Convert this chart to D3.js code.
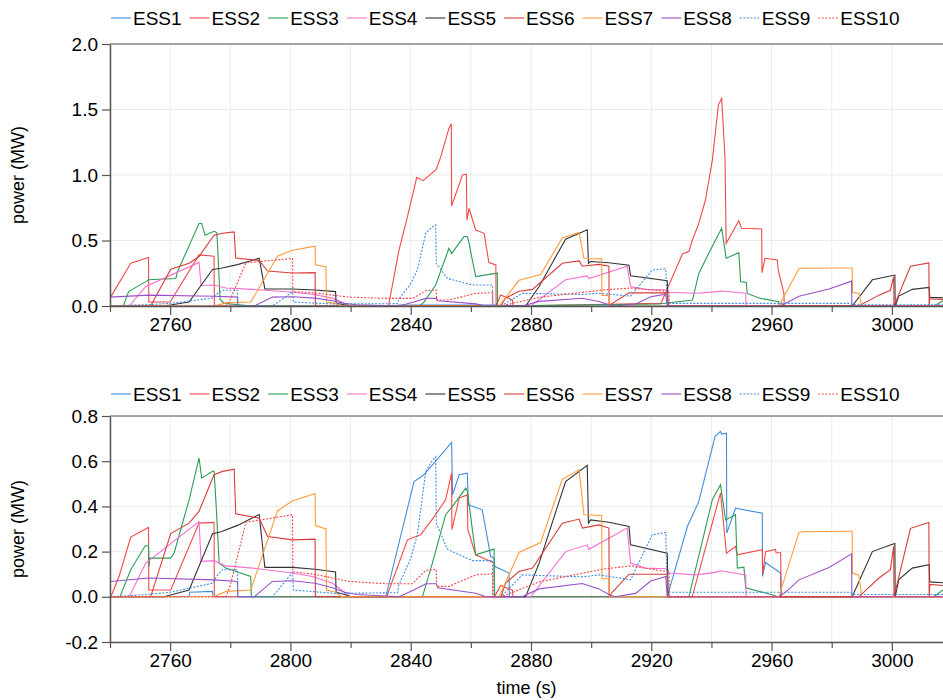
<!DOCTYPE html>
<html>
<head>
<meta charset="utf-8">
<script src="https://cdn.jsdelivr.net/npm/d3@7"></script>
<style>
body { margin: 0; background: #fff; }
text { font-family: "Liberation Sans", Arial, sans-serif; }
</style>
</head>
<body>
<div id="chart"></div>
<script>

var names = ["ESS1","ESS2","ESS3","ESS4","ESS5","ESS6","ESS7","ESS8","ESS9","ESS10"];
var colors = ["#3f8de0","#f44848","#2e9c55","#f56fd2","#333333","#d83c3c","#ff9b38","#9a50c8","#3f8de0","#f44848"];
var dotted = [0,0,0,0,0,0,0,0,1,1];

var xTicks = d3.range(2740, 3017, 20);
var yTicksTop = [0, 0.5, 1.0, 1.5, 2.0];
var yTicksBottom = [-0.2, 0, 0.2, 0.4, 0.6, 0.8];

// series shared by both panels, [time, MW]
var ess4 = [[2740,0],[2746.4,0],[2751.9,0.149],[2769.6,0.333],[2770.3,0.157],[2774.6,0.16],[2778.5,0.137],[2787.4,0.127],
  [2791.8,0.12],[2800.7,0.105],[2807.3,0.09],[2814,0.06],[2817,0.03],[2820,0],[2879.9,0],[2891.5,0.2],[2898.7,0.23],
  [2899.2,0.21],[2912,0.304],[2913.1,0.149],[2918.1,0.127],[2925.3,0.124],[2925.9,0.105],[2934.7,0.097],[2941.4,0.108],
  [2943,0.115],[2951.4,0.097],[2951.5,0],[3017,0]];
var ess5 = [[2740,0],[2758,0],[2766.3,0.03],[2774.1,0.279],[2776.9,0.288],[2782.4,0.316],[2789.6,0.364],[2791.5,0.13],
  [2800.7,0.13],[2808.2,0.122],[2815,0.11],[2815.2,0.02],[2818,0.01],[2820,0],[2878.2,0],[2882.7,0.149],[2891.5,0.51],
  [2898.7,0.582],[2899.1,0.326],[2899.8,0.34],[2905.9,0.33],[2912.6,0.311],[2913.1,0.23],[2925.3,0.193],[2925.6,0],
  [2986.8,0],[2993.5,0.2],[2999.5,0.229],[3001,0.236],[3001.1,0],[3002.3,0.076],[3006.8,0.127],[3012.4,0.142],
  [3012.6,0.066],[3017,0.062]];
var ess6 = [[2740,0],[2753.5,0],[2760.2,0.28],[2766.3,0.326],[2769.6,0.378],[2774.6,0.54],[2777.4,0.555],[2781.3,0.565],
  [2781.8,0.367],[2789.6,0.348],[2792.4,0.267],[2800.7,0.252],[2808.2,0.255],[2808.3,0],[2870,0],[2871.5,0.06],
  [2876,0.112],[2880.5,0.127],[2890.4,0.326],[2896,0.344],[2897.1,0.304],[2902.6,0.318],[2905.9,0.304],[2906,0],
  [2907,0.02],[2912.6,0.1],[2925.3,0.1],[2925.4,0],[2989,0],[2995.7,0.083],[2999.5,0.12],[3000.6,0.224],[3000.7,0],
  [3006.2,0.303],[3012.3,0.329],[3012.4,0],[3012.6,0.055],[3017,0.05]];
var ess7 = [[2740,0],[2774.6,0],[2778.5,0.024],[2786.8,0.03],[2795.7,0.38],[2800.7,0.425],[2808.2,0.456],[2808.3,0.315],
  [2811.8,0.3],[2812,0.03],[2815,0.02],[2817,0],[2869.4,0],[2876,0.196],[2883.2,0.24],[2890.4,0.52],[2896,0.562],
  [2897.6,0.363],[2903.5,0.36],[2903.6,0.08],[2905.9,0.08],[2906,0],[2962.4,0],[2969.1,0.285],[2970.2,0.288],
  [2984.6,0.29],[2986.8,0.29],[2986.9,0.105],[2989,0.096],[2990,0],[3017,0]];
var ess8 = [[2740,0.068],[2753,0.083],[2774.6,0.075],[2782.4,0.068],[2782.5,0],[2788,0],[2794,0.068],[2800.7,0.071],
  [2808.2,0.06],[2814,0.04],[2818,0.02],[2822,0.01],[2836.1,0],[2841,0.03],[2845,0.058],[2848.5,0.058],[2849,0.04],
  [2861.6,0.016],[2865,0],[2877,0],[2882.7,0.035],[2897,0.059],[2902.6,0.035],[2905.9,0.01],[2908,0],[2914.8,0.015],
  [2919.8,0.07],[2924.8,0.09],[2925.3,0],[2962.5,0],[2964.6,0.02],[2969.1,0.075],[2979.1,0.13],[2986.6,0.19],
  [2986.7,0],[3017,0]];
var ess9 = [[2740,0],[2752,0.01],[2760,0.02],[2774,0.06],[2776,0.1],[2777.4,0.12],[2782.4,0.12],[2782.5,0],[2794,0],
  [2800.7,0.108],[2801,0.03],[2815,0.015],[2835.6,0.018],[2836,0.05],[2840,0.17],[2842.2,0.275],[2845,0.555],
  [2847,0.6],[2848.3,0.62],[2848.5,0.326],[2852.2,0.21],[2860.5,0.16],[2867.2,0.16],[2867.3,0],[2870,0],
  [2877.1,0.097],[2897,0.088],[2902.6,0.097],[2913.1,0.075],[2920.3,0.274],[2924.8,0.285],[2925.3,0.02],
  [2986,0.02],[2987,0.01],[3017,0.01]];
var ess10 = [[2740,0],[2778.5,0],[2780,0.05],[2785.2,0.33],[2800.7,0.363],[2800.8,0.11],[2808,0.1],[2819.5,0.068],
  [2831.7,0.058],[2840.6,0.058],[2845,0.117],[2848.5,0.122],[2848.6,0.046],[2852.7,0.046],[2861.6,0.097],
  [2867.2,0.102],[2867.3,0],[2870,0],[2882.7,0.066],[2903.7,0.122],[2913.1,0.137],[2925.9,0.11],[2926,0],[3017,0]];

// top panel series
var topEss1 = [[2740,0],[2835,0],[2836,0.008],[2868,0.008],[2869,0],[3017,0]];
var topEss2 = [[2740,0.06],[2746.9,0.326],[2752.8,0.37],[2752.9,0.03],[2760,0.03],[2769.6,0.39],[2774.6,0.38],
  [2774.7,0],[2832.6,0],[2836.1,0.427],[2838.9,0.68],[2842,0.982],[2844.1,0.957],[2848.5,1.043],[2850,1.14],
  [2852.7,1.356],[2853.5,1.39],[2853.6,0.764],[2857.2,1.0],[2858.5,1.007],[2858.7,0.656],[2859.4,0.745],
  [2861.6,0.58],[2864.4,0.555],[2866,0.331],[2868.3,0.313],[2868.4,0],[2869.9,0.084],[2873.8,0.046],[2874,0],
  [2923.2,0.02],[2930.4,0.4],[2932.5,0.415],[2933.6,0.5],[2935.8,0.631],[2938,0.809],[2940.3,1.114],[2942.3,1.534],
  [2943.4,1.585],[2944.5,1.14],[2944.9,0.478],[2949.1,0.651],[2950,0.593],[2956.7,0.588],[2956.8,0.254],
  [2957.8,0.364],[2961.9,0.351],[2962.2,0.275],[2964.1,0.096],[2964.2,0],[3017,0]];
var topEss3 = [[2740,0],[2744.4,0],[2746.2,0.11],[2751.9,0.186],[2752.8,0.2],[2761.9,0.21],[2762.4,0.26],
  [2769.6,0.63],[2770.5,0.63],[2771.6,0.54],[2774.6,0.57],[2775.5,0.56],[2775.8,0.45],[2776.6,0.05],[2778,0.02],
  [2787,0],[2843,0],[2844.4,0.03],[2848.3,0.16],[2852.7,0.44],[2853.6,0.4],[2857.7,0.53],[2858.8,0.53],
  [2859.2,0.5],[2861.6,0.224],[2867.2,0.245],[2868.8,0.25],[2868.9,0],[2922.6,0.015],[2933.7,0.046],
  [2935.8,0.249],[2939.1,0.402],[2943.4,0.593],[2944.9,0.364],[2949.1,0.407],[2949.7,0.186],[2951.6,0.18],
  [2951.9,0.096],[2956.3,0.058],[2962.4,0.033],[2962.5,0],[3014,0],[3017,0.04]];

// bottom panel series
var botEss1 = [[2740,0],[2766.3,0],[2766.5,0.02],[2774.1,0.024],[2774.2,0],[2831.7,0],[2841.1,0.51],[2844.4,0.54],
  [2853.6,0.683],[2853.9,0.451],[2856.1,0.54],[2858.8,0.547],[2859.2,0.407],[2863.8,0.385],[2866.6,0.178],
  [2867.7,0.17],[2868,0.134],[2872.7,0.105],[2872.8,0],[2925.3,0],[2932,0.311],[2935.8,0.422],[2941.2,0.71],
  [2943,0.732],[2943.4,0.72],[2945,0.724],[2945.1,0.282],[2948,0.392],[2956.9,0.37],[2957,0.09],[2958,0.152],
  [2963,0.105],[2963.1,0],[3017,0]];
var botEss2 = [[2740.3,0],[2743,0.09],[2746.9,0.264],[2752.8,0.307],[2752.9,0.03],[2760.2,0.03],[2769.6,0.326],
  [2774.6,0.329],[2774.7,0],[2832,0],[2838.9,0.252],[2843.3,0.274],[2847.8,0.355],[2851.6,0.429],[2853.6,0.547],
  [2853.7,0.297],[2856.1,0.437],[2858.8,0.451],[2859,0.297],[2861.6,0.186],[2866.6,0.156],[2867.7,0.15],
  [2867.8,0],[2869.9,0.05],[2873.8,0.03],[2874,0],[2933.6,0],[2943,0.459],[2945,0.193],[2948,0.223],[2948.6,0.186],
  [2956.9,0.208],[2957,0.1],[2958,0.2],[2961.3,0.21],[2961.5,0.195],[2963,0.195],[2963.2,0],[3017,0]];
var botEss3 = [[2740,0],[2743.3,0],[2746.9,0.12],[2751.7,0.226],[2752.8,0.226],[2753,0.134],[2753.2,0.171],
  [2760.2,0.171],[2761.3,0.193],[2766.3,0.429],[2769.6,0.614],[2770.5,0.525],[2774.1,0.555],[2774.6,0.555],
  [2775.2,0.429],[2776.3,0.149],[2778.5,0.127],[2786.8,0.09],[2787,0],[2843.9,0],[2847.2,0.149],[2851.6,0.363],
  [2853.9,0.4],[2858.3,0.481],[2858.8,0.47],[2861.6,0.186],[2867.7,0.211],[2867.9,0],[2932.5,0],[2940.3,0.43],
  [2943,0.496],[2944.7,0.34],[2948,0.363],[2948.6,0.127],[2950.8,0.131],[2951.4,0.04],[2960.2,0.009],[2962,0],
  [3014,0],[3017,0.03]];

var topSeries = [topEss1, topEss2, topEss3, ess4, ess5, ess6, ess7, ess8, ess9, ess10];
var botSeries = [botEss1, botEss2, botEss3, ess4, ess5, ess6, ess7, ess8, ess9, ess10];

var width = 943, height = 700;
var fontSize = 19;
var svg = d3.select("#chart").append("svg")
  .attr("width", width)
  .attr("height", height);

var x = d3.scaleLinear().domain([2740, 3017]).range([110, 943]);

svg.append("defs").append("clipPath").attr("id", "plotclip")
  .append("rect").attr("x", 110).attr("y", 0).attr("width", 833).attr("height", height);

function panel(top, bottom, yDomain, yTicks, series, legendY) {
  var y = d3.scaleLinear().domain(yDomain).range([bottom, top]);
  var g = svg.append("g");

  // grid
  g.selectAll(".vg").data(xTicks).enter().append("line")
    .attr("x1", d => x(d)).attr("x2", d => x(d))
    .attr("y1", top).attr("y2", bottom)
    .attr("stroke", "#ececec").attr("stroke-width", 1);
  g.selectAll(".hg").data(yTicks).enter().append("line")
    .attr("x1", 110).attr("x2", 943)
    .attr("y1", d => y(d)).attr("y2", d => y(d))
    .attr("stroke", "#ececec").attr("stroke-width", 1);

  // top frame line
  g.append("line").attr("x1", 110).attr("x2", 943)
    .attr("y1", top).attr("y2", top)
    .attr("stroke", "#555").attr("stroke-width", 1.2);

  var line = d3.line().x(d => x(d[0])).y(d => y(d[1]));
  var lines = g.append("g").attr("clip-path", "url(#plotclip)");
  series.forEach(function(s, i) {
    lines.append("path")
      .datum(s)
      .attr("d", line)
      .attr("fill", "none")
      .attr("stroke", colors[i])
      .attr("stroke-width", 1.1)
      .attr("stroke-dasharray", dotted[i] ? "2,1.5" : null);
  });

  // axes
  var xAxis = d3.axisBottom(x).tickValues(xTicks).tickSize(9).tickSizeOuter(0)
    .tickFormat(d => d % 40 === 0 ? d : "");
  var gx = g.append("g").attr("transform", "translate(0," + bottom + ")").call(xAxis);
  gx.selectAll(".tick line").attr("y2", d => d % 40 === 0 ? 9 : 6);

  var yAxis = d3.axisLeft(y).tickValues(yTicks).tickSize(8).tickSizeOuter(0)
    .tickPadding(4).tickFormat(d => d.toFixed(1));
  var gy = g.append("g").attr("transform", "translate(110,0)").call(yAxis);

  [gx, gy].forEach(function(a) {
    a.select(".domain").attr("stroke", "#555").attr("stroke-width", 1.5);
    a.selectAll(".tick line").attr("stroke", "#555").attr("stroke-width", 1.2);
    a.selectAll("text").attr("font-size", fontSize).attr("fill", "#000")
      .attr("font-family", "'Liberation Sans', Arial, sans-serif");
  });

  g.append("text")
    .attr("transform", "translate(24," + ((top + bottom) / 2) + ") rotate(-90)")
    .attr("text-anchor", "middle")
    .attr("font-size", 18)
    .text("power (MW)");

  // legend
  var lx = 111;
  names.forEach(function(n, i) {
    g.append("line")
      .attr("x1", lx).attr("x2", lx + 20)
      .attr("y1", legendY).attr("y2", legendY)
      .attr("stroke", colors[i]).attr("stroke-width", 1.1)
      .attr("stroke-dasharray", dotted[i] ? "2,1.5" : null);
    var t = g.append("text")
      .attr("x", lx + 22).attr("y", legendY)
      .attr("dy", "0.35em")
      .attr("font-size", fontSize)
      .text(n);
    lx += 22 + t.node().getComputedTextLength() + 8;
  });
}

panel(44, 306, [0, 2], yTicksTop, topSeries, 18);
panel(416, 642, [-0.2, 0.8], yTicksBottom, botSeries, 394);

svg.append("text")
  .attr("x", 526.5).attr("y", 694)
  .attr("text-anchor", "middle")
  .attr("font-size", 18)
  .text("time (s)");

</script>
</body>
</html>
